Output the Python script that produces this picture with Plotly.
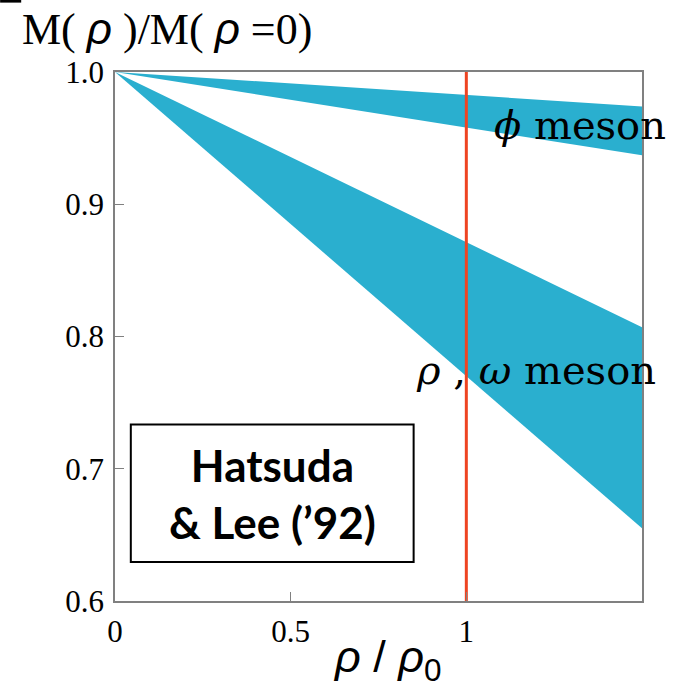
import plotly.graph_objects as go

# Normalised density rho/rho0 at the ends of the bands
density = [0.0, 1.5]

# QCD sum-rule mass bands (M(rho)/M(0))
phi_upper = [1.0, 0.974]
phi_lower = [1.0, 0.937]
rw_upper = [1.0, 0.807]
rw_lower = [1.0, 0.655]

# Normal nuclear density marker
nuclear_density = 1.0

x_ticks = [0, 0.5, 1]
x_tick_text = ["0", "0.5", "1"]
y_ticks = [0.6, 0.7, 0.8, 0.9, 1.0]
y_tick_text = ["0.6", "0.7", "0.8", "0.9", "1.0"]

BAND = "#2AAFCF"
RED = "#EE4422"
SERIF = "Liberation Serif"
RHO = '<span style="font-family:Liberation Sans"><i>ρ</i></span>'

fig = go.Figure()

def band(lower, upper):
    fig.add_trace(go.Scatter(x=density, y=lower, mode="lines",
                             line=dict(width=0, color=BAND),
                             showlegend=False, hoverinfo="skip"))
    fig.add_trace(go.Scatter(x=density, y=upper, mode="lines",
                             line=dict(width=0, color=BAND),
                             fill="tonexty", fillcolor=BAND,
                             showlegend=False, hoverinfo="skip"))

band(phi_lower, phi_upper)
band(rw_lower, rw_upper)

fig.add_trace(go.Scatter(x=[nuclear_density, nuclear_density], y=[0.6, 1.0],
                         mode="lines", line=dict(color=RED, width=3),
                         showlegend=False, hoverinfo="skip"))

axis_common = dict(showline=True, linecolor="#808080", linewidth=1.5,
                   mirror=True, showgrid=False, zeroline=False,
                   ticks="inside", ticklen=9, tickcolor="#808080",
                   tickwidth=1)

fig.update_xaxes(range=[0, 1.5], tickvals=x_ticks, ticktext=x_tick_text,
                 tickfont=dict(family=SERIF, size=31, color="black"),
                 ticklabelstandoff=2,
                 **axis_common)
fig.update_yaxes(range=[0.6, 1.0], tickvals=y_ticks, ticktext=y_tick_text,
                 tickfont=dict(family=SERIF, size=31, color="black"),
                 ticklabelstandoff=3,
                 **axis_common)

# Axis titles
fig.add_annotation(xref="paper", yref="paper", x=-0.181, y=1.082,
                   xanchor="left", yanchor="middle", showarrow=False,
                   text=f"M( {RHO} )/M( {RHO} =0)",
                   font=dict(family=SERIF, size=44, color="black"))
fig.add_annotation(xref="paper", yref="paper", x=0.518, y=-0.11,
                   xanchor="center", yanchor="middle", showarrow=False,
                   text="<i>ρ</i> / <i>ρ</i><sub>0</sub>",
                   font=dict(family="Liberation Sans", size=45, color="black"))

# Band labels
fig.add_annotation(x=1.5, y=0.96, xref="x", yref="y", xanchor="right",
                   xshift=26, showarrow=False,
                   text="<i>ϕ</i> meson",
                   font=dict(family="DejaVu Serif", size=40, color="black"))
fig.add_annotation(x=1.5, y=0.7747, xref="x", yref="y", xanchor="right",
                   xshift=16, showarrow=False,
                   text="<i>ρ</i> , <i>ω</i> meson",
                   font=dict(family="DejaVu Serif", size=40, color="black"))

# Reference box
fig.add_shape(type="rect", xref="x", yref="y", x0=0.045, x1=0.85,
              y0=0.6295, y1=0.7335, line=dict(color="black", width=2),
              fillcolor="white")
fig.add_annotation(x=0.447, y=0.681, xref="x", yref="y", showarrow=False,
                   text="<b>Hatsuda<br>& Lee (’92)</b>", align="center",
                   font=dict(family="Lato", size=44, color="black"))

# Short rule at the top-left corner
fig.add_shape(type="line", xref="paper", yref="paper",
              x0=-0.218, x1=-0.178, y0=1.134, y1=1.134,
              line=dict(color="black", width=3))

fig.update_layout(width=683, height=690,
                  margin=dict(l=115, r=41, t=72, b=89),
                  paper_bgcolor="white", plot_bgcolor="white",
                  showlegend=False)

fig.write_html("out.html")
